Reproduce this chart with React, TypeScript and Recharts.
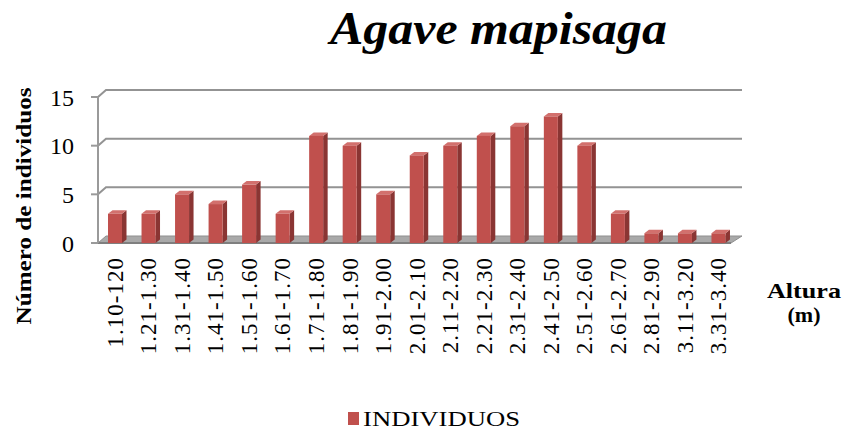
import { BarChart, Bar, XAxis, YAxis, CartesianGrid, Legend } from 'recharts';

const categories = [
  '1.10-120', '1.21-1.30', '1.31-1.40', '1.41-1.50', '1.51-1.60', '1.61-1.70',
  '1.71-1.80', '1.81-1.90', '1.91-2.00', '2.01-2.10', '2.11-2.20', '2.21-2.30',
  '2.31-2.40', '2.41-2.50', '2.51-2.60', '2.61-2.70', '2.81-2.90', '3.11-3.20', '3.31-3.40',
];
const individuos = [3, 3, 5, 4, 6, 3, 11, 10, 5, 9, 10, 11, 12, 13, 10, 3, 1, 1, 1];
const yTicks = [0, 5, 10, 15];

const data = categories.map((rango, i) => ({ rango, individuos: individuos[i] }));

const W = 843;
const H = 432;
const XAXIS_H = 189;
const PLOT_BOTTOM = H - XAXIS_H;
const WALL_DX = 8;
const WALL_DY = 7;
const WALL_RIGHT = 742;
const SERIF = "'Liberation Serif', 'Times New Roman', serif";

// back wall gridlines + floor slab, drawn in place of the flat grid
function GridLine(props: any) {
  const { x1, y1, index } = props;
  if (Math.abs(y1 - PLOT_BOTTOM) < 1) {
    const pts = [
      [x1, y1],
      [WALL_RIGHT - WALL_DX - 3, y1],
      [WALL_RIGHT, y1 - WALL_DY],
      [x1 + WALL_DX, y1 - WALL_DY],
    ];
    return (
      <g key={`floor-${index}`}>
        <polygon points={pts.map((p) => p.join(',')).join(' ')} fill="#a9a9a9" stroke="#8f8f8f" strokeWidth={1} />
        <line x1={x1} y1={y1} x2={WALL_RIGHT - WALL_DX - 3} y2={y1} stroke="#7f7f7f" strokeWidth={2} />
      </g>
    );
  }
  return (
    <polyline
      key={`grid-${index}`}
      points={`${x1},${y1} ${x1 + WALL_DX},${y1 - WALL_DY} ${WALL_RIGHT},${y1 - WALL_DY}`}
      fill="none"
      stroke="#939393"
      strokeWidth={2}
    />
  );
}

function Bar3D(props: any) {
  const { x, y, width, height } = props;
  if (!height) return null;
  const dx = 4.5;
  const dy = 3.5;
  return (
    <g>
      <polygon
        points={`${x + width},${y} ${x + width + dx},${y - dy} ${x + width + dx},${y + height - dy} ${x + width},${y + height}`}
        fill="#8a3533"
      />
      <polygon
        points={`${x},${y} ${x + dx},${y - dy} ${x + width + dx},${y - dy} ${x + width},${y}`}
        fill="#d2706d"
      />
      <rect x={x} y={y} width={width} height={height} fill="#c0504d" />
    </g>
  );
}

function XTick(props: any) {
  const { x, y, payload } = props;
  return (
    <text
      transform={`translate(${x},${y}) rotate(-90)`}
      textAnchor="end"
      dy="0.35em"
      fontFamily={SERIF}
      fontSize={23}
      letterSpacing={1}
      fill="#000"
    >
      {payload.value}
    </text>
  );
}

function LegendContent(props: any) {
  const item = props.payload?.[0];
  return (
    <svg width={W} height={32} style={{ display: 'block' }}>
      <rect x={348} y={12} width={11} height={13} fill={item?.color ?? '#c0504d'} />
      <text x={363} y={26} fontFamily={SERIF} fontSize={21} fill="#000" textLength={157} lengthAdjust="spacingAndGlyphs">
        {item?.value ?? 'INDIVIDUOS'}
      </text>
    </svg>
  );
}

export default function App() {
  return (
    <div style={{ position: 'absolute', top: 0, left: 0, width: W, height: H, background: '#fff' }}>
      <BarChart width={W} height={H} data={data} margin={{ top: 97, right: 108, bottom: 0, left: 0 }}>
        <CartesianGrid vertical={false} horizontal={GridLine} />
        <XAxis
          dataKey="rango"
          height={XAXIS_H}
          axisLine={false}
          tickLine={false}
          tickSize={0}
          tickMargin={14}
          interval={0}
          tick={<XTick />}
        />
        <YAxis
          width={98}
          domain={[0, 15]}
          ticks={yTicks}
          axisLine={{ stroke: '#9a9a9a', strokeWidth: 2 }}
          tickLine={{ stroke: '#9a9a9a', strokeWidth: 2 }}
          tickSize={7}
          tickMargin={17}
          tick={{ fontFamily: SERIF, fontSize: 24, fill: '#000' }}
        />
        <Legend
          layout="horizontal"
          verticalAlign="middle"
          align="center"
          wrapperStyle={{ top: 400, left: 0, width: W }}
          content={<LegendContent />}
        />
        <Bar dataKey="individuos" name="INDIVIDUOS" fill="#c0504d" barSize={14} shape={<Bar3D />} isAnimationActive={false} />
        <text
          x={330}
          y={44}
          fontFamily={SERIF}
          fontSize={46}
          fontWeight="bold"
          fontStyle="italic"
          fill="#000"
          textLength={337}
          lengthAdjust="spacingAndGlyphs"
        >
          Agave mapisaga
        </text>
        <text
          transform="translate(23,206) rotate(-90)"
          textAnchor="middle"
          dy="0.35em"
          fontFamily={SERIF}
          fontSize={22}
          fontWeight="bold"
          fill="#000"
          textLength={237}
          lengthAdjust="spacingAndGlyphs"
        >
          Número de individuos
        </text>
        <text x={804} y={298} textAnchor="middle" fontFamily={SERIF} fontSize={21} fontWeight="bold" fill="#000" textLength={74} lengthAdjust="spacingAndGlyphs">
          Altura
        </text>
        <text x={804} y={322} textAnchor="middle" fontFamily={SERIF} fontSize={22} fontWeight="bold" fill="#000">
          (m)
        </text>
      </BarChart>
    </div>
  );
}
